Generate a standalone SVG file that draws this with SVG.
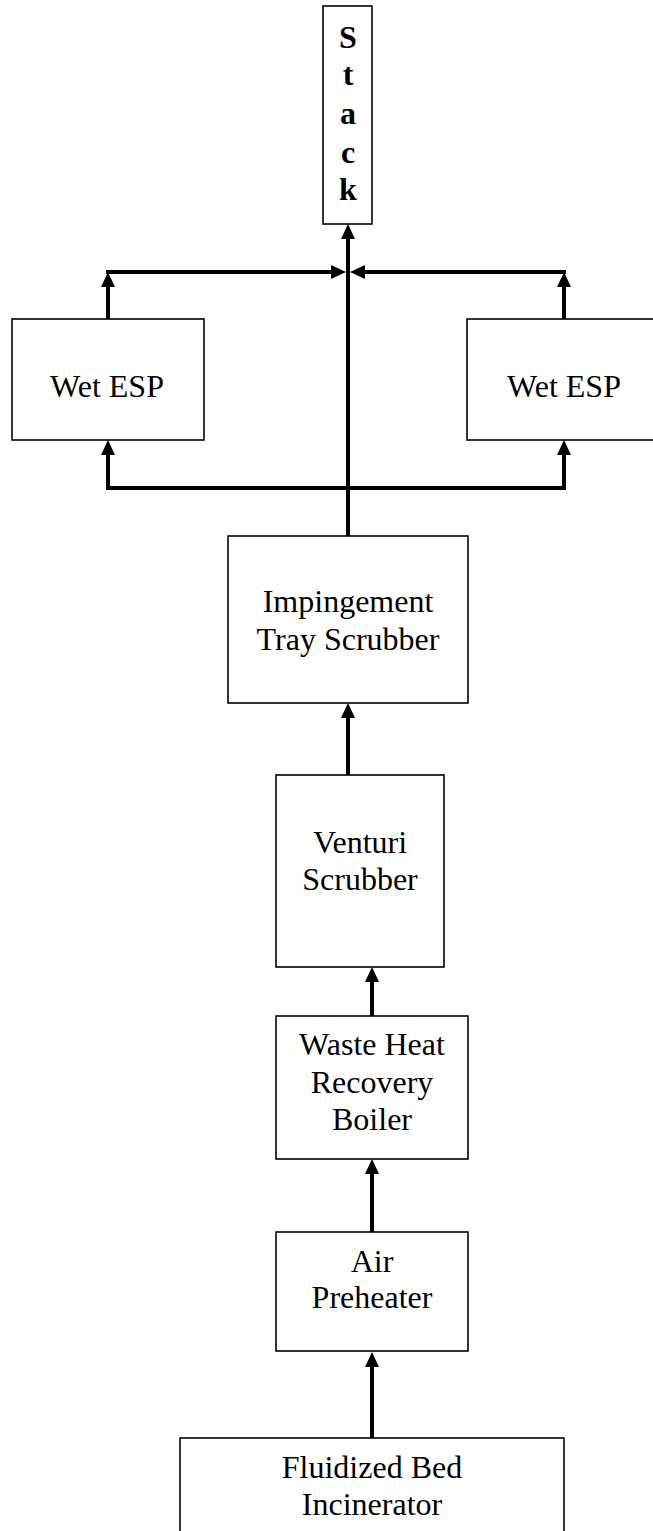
<svg xmlns="http://www.w3.org/2000/svg" width="653" height="1531" viewBox="0 0 653 1531">
  <style>
    .box { fill: #fff; stroke: #000; stroke-width: 1.6; }
    .lbl { font-family: "Liberation Serif", "Times New Roman", serif; font-size: 32px; fill: #000; text-anchor: middle; }
    .stk { font-family: "Liberation Serif", "Times New Roman", serif; font-size: 32px; font-weight: bold; fill: #000; text-anchor: middle; }
    .flow { fill: none; stroke: #000; stroke-width: 4; stroke-linejoin: miter; marker-end: url(#head); }
    .bus { fill: none; stroke: #000; stroke-width: 4; stroke-linejoin: miter; }
  </style>
  <defs>
    <marker id="head" markerUnits="userSpaceOnUse" markerWidth="15" markerHeight="14" refX="11" refY="7" orient="auto" viewBox="0 0 15 14">
      <path d="M0,0 L15,7 L0,14 z" fill="#000"/>
    </marker>
  </defs>

  <rect width="653" height="1531" fill="#fff"/>

  <!-- process units -->
  <g id="stack">
    <rect class="box" x="323" y="6" width="49" height="218"/>
    <text class="stk" x="348" y="48">S</text>
    <text class="stk" x="348" y="85">t</text>
    <text class="stk" x="348" y="124">a</text>
    <text class="stk" x="348" y="163">c</text>
    <text class="stk" x="348" y="200">k</text>
  </g>

  <g id="wet-esp-left">
    <rect class="box" x="12" y="319" width="192" height="121"/>
    <text class="lbl" x="107" y="397">Wet ESP</text>
  </g>

  <g id="wet-esp-right">
    <rect class="box" x="467" y="319" width="194" height="121"/>
    <text class="lbl" x="564" y="397">Wet ESP</text>
  </g>

  <g id="impingement-tray-scrubber">
    <rect class="box" x="228" y="536" width="240" height="167"/>
    <text class="lbl" x="348" y="612">Impingement</text>
    <text class="lbl" x="348" y="650">Tray Scrubber</text>
  </g>

  <g id="venturi-scrubber">
    <rect class="box" x="276" y="775" width="168" height="192"/>
    <text class="lbl" x="360" y="853">Venturi</text>
    <text class="lbl" x="360" y="890">Scrubber</text>
  </g>

  <g id="waste-heat-recovery-boiler">
    <rect class="box" x="276" y="1016" width="192" height="143"/>
    <text class="lbl" x="372" y="1055">Waste Heat</text>
    <text class="lbl" x="372" y="1093">Recovery</text>
    <text class="lbl" x="372" y="1130">Boiler</text>
  </g>

  <g id="air-preheater">
    <rect class="box" x="276" y="1232" width="192" height="119"/>
    <text class="lbl" x="372" y="1272">Air</text>
    <text class="lbl" x="372" y="1308">Preheater</text>
  </g>

  <g id="fluidized-bed-incinerator">
    <rect class="box" x="180" y="1438" width="384" height="110"/>
    <text class="lbl" x="372" y="1478">Fluidized Bed</text>
    <text class="lbl" x="372" y="1515">Incinerator</text>
  </g>

  <!-- gas flow connectors -->
  <g id="connectors">
    <path class="flow" d="M372,1438 L372,1356"/>
    <path class="flow" d="M372,1232 L372,1163"/>
    <path class="flow" d="M372,1016 L372,971"/>
    <path class="flow" d="M348,775 L348,707"/>
    <path class="flow" d="M348,536 L348,228"/>
    <!-- split to the two wet ESPs -->
    <path class="flow" d="M348,488 L108,488 L108,444"/>
    <path class="flow" d="M348,488 L564,488 L564,444"/>
    <!-- wet ESP outlets -->
    <path class="flow" d="M108,319 L108,276"/>
    <path class="flow" d="M564,319 L564,276"/>
    <!-- header into the stack -->
    <path class="flow" d="M106,272 L342,272"/>
    <path class="flow" d="M566,272 L354,272"/>
  </g>
</svg>
